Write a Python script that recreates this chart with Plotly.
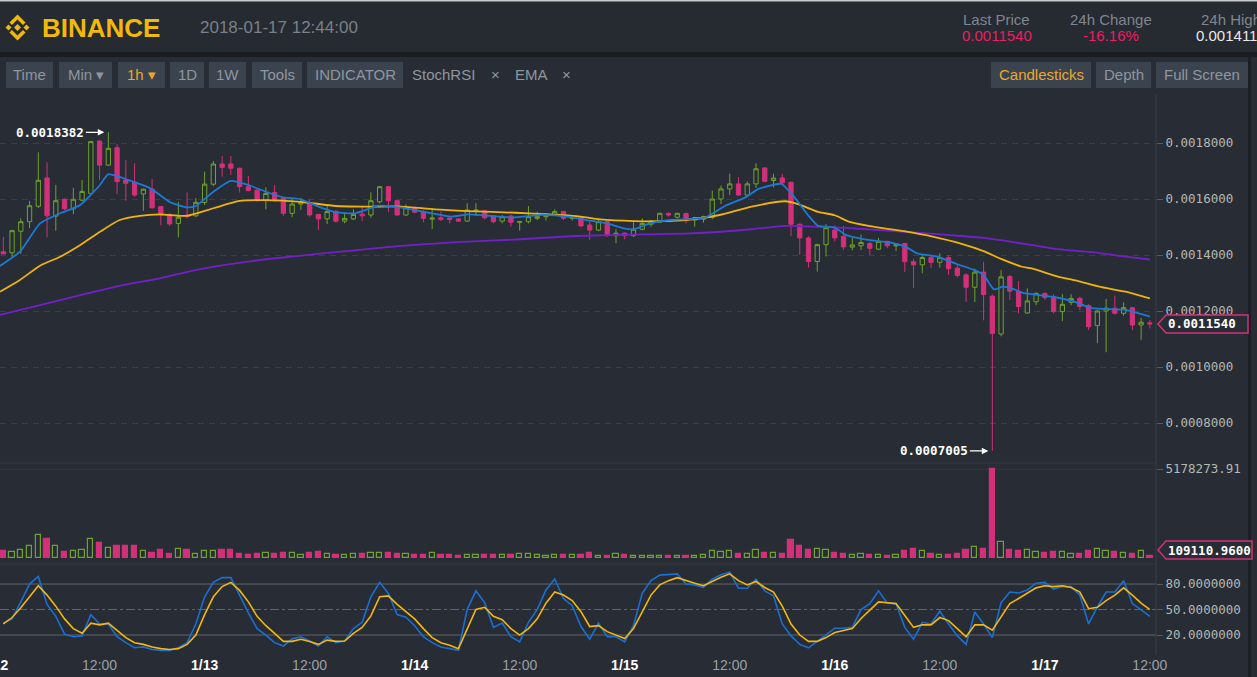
import plotly.graph_objects as go
from plotly.subplots import make_subplots

# hourly candles, x = hours counted from 2018-01-12 00:00 ; prices in units of 1e-6
hours = list(range(1, 133))
open_u = [1412, 1408, 1485, 1519, 1574, 1675, 1539, 1599, 1565, 1596,
          1620, 1807, 1721, 1783, 1668, 1660, 1618, 1636, 1573, 1545,
          1513, 1543, 1540, 1588, 1653, 1725, 1725, 1710, 1644, 1632,
          1596, 1623, 1603, 1549, 1582, 1585, 1545, 1529, 1556, 1521,
          1529, 1546, 1543, 1590, 1644, 1594, 1543, 1570, 1555, 1528,
          1533, 1532, 1529, 1521, 1558, 1558, 1539, 1521, 1539, 1517,
          1519, 1531, 1537, 1543, 1555, 1531, 1537, 1507, 1489, 1519,
          1469, 1478, 1469, 1492, 1510, 1517, 1549, 1535, 1548, 1525,
          1528, 1534, 1600, 1636, 1654, 1614, 1654, 1711, 1666, 1675,
          1660, 1510, 1461, 1377, 1437, 1489, 1467, 1428, 1433, 1441,
          1421, 1449, 1433, 1441, 1376, 1365, 1391, 1374, 1391, 1353,
          1329, 1285, 1339, 1253, 1118, 1323, 1271, 1193, 1233, 1263,
          1251, 1198, 1231, 1245, 1219, 1148, 1200, 1210, 1192, 1212,
          1150, 1158]
high_u = [1465, 1490, 1531, 1593, 1767, 1731, 1650, 1602, 1640, 1668,
          1808, 1810, 1838.2, 1796, 1739, 1727, 1637, 1671, 1575, 1549,
          1590, 1624, 1603, 1698, 1736, 1754, 1754, 1712, 1682, 1634,
          1642, 1650, 1605, 1603, 1603, 1599, 1547, 1576, 1560, 1553,
          1563, 1573, 1624, 1646, 1646, 1596, 1581, 1573, 1561, 1561,
          1555, 1533, 1531, 1585, 1585, 1561, 1543, 1543, 1545, 1519,
          1575, 1555, 1549, 1563, 1558, 1539, 1539, 1519, 1527, 1522,
          1492, 1481, 1517, 1531, 1525, 1551, 1552, 1551, 1551, 1537,
          1540, 1630, 1648, 1690, 1678, 1663, 1727, 1713, 1690, 1690,
          1662, 1512, 1467, 1440, 1510, 1506, 1504, 1461, 1473, 1447,
          1461, 1451, 1442, 1443, 1386, 1402, 1400, 1406, 1400, 1367,
          1335, 1351, 1376, 1259, 1346, 1329, 1307, 1281, 1267, 1267,
          1260, 1260, 1260, 1251, 1224, 1204, 1243, 1255, 1231, 1214,
          1176, 1168]
low_u = [1402, 1388, 1404, 1496, 1568, 1463, 1487, 1560, 1546, 1592,
         1616, 1668, 1718, 1618, 1594, 1608, 1558, 1565, 1507, 1504,
         1463, 1531, 1535, 1579, 1646, 1680, 1686, 1623, 1628, 1590,
         1563, 1590, 1540, 1535, 1561, 1537, 1489, 1511, 1515, 1513,
         1525, 1521, 1533, 1585, 1553, 1540, 1540, 1549, 1517, 1493,
         1521, 1513, 1519, 1519, 1540, 1527, 1513, 1513, 1501, 1487,
         1513, 1525, 1523, 1540, 1525, 1523, 1499, 1454, 1485, 1465,
         1442, 1456, 1465, 1488, 1501, 1515, 1537, 1531, 1513, 1501,
         1516, 1528, 1582, 1614, 1612, 1610, 1639, 1660, 1642, 1652,
         1467, 1401, 1355, 1341, 1395, 1449, 1419, 1417, 1418, 1400,
         1418, 1424, 1414, 1339, 1282, 1335, 1353, 1355, 1329, 1320,
         1232, 1232, 1167, 700.5, 1110, 1239, 1192, 1190, 1221, 1240,
         1192, 1164, 1221, 1204, 1132, 1085, 1053, 1188, 1183, 1132,
         1097, 1138]
close_u = [1404, 1487, 1519, 1576, 1667, 1540, 1594, 1565, 1599, 1627,
           1805, 1721, 1781, 1662, 1656, 1614, 1635, 1569, 1543, 1511,
           1535, 1537, 1588, 1653, 1725, 1713, 1710, 1644, 1630, 1596,
           1620, 1594, 1549, 1582, 1588, 1543, 1529, 1555, 1521, 1531,
           1545, 1540, 1594, 1644, 1594, 1543, 1569, 1553, 1531, 1532,
           1527, 1527, 1521, 1561, 1560, 1533, 1519, 1537, 1517, 1519,
           1537, 1537, 1546, 1555, 1531, 1537, 1504, 1489, 1519, 1469,
           1478, 1469, 1492, 1513, 1521, 1549, 1543, 1549, 1523, 1534,
           1537, 1600, 1636, 1654, 1614, 1654, 1708, 1663, 1675, 1658,
           1510, 1461, 1377, 1437, 1498, 1461, 1429, 1436, 1445, 1424,
           1449, 1433, 1438, 1376, 1365, 1391, 1374, 1391, 1351, 1327,
           1285, 1339, 1259, 1120, 1322, 1271, 1216, 1236, 1263, 1248,
           1198, 1224, 1245, 1216, 1144, 1200, 1210, 1192, 1212, 1150,
           1160, 1154]
volume = [425000, 367000, 465000, 680000, 1338000, 1105000, 680000, 367000, 390000, 465000,
          1105000, 873000, 582000, 680000, 680000, 680000, 425000, 291000, 465000, 233000,
          524000, 465000, 233000, 390000, 390000, 465000, 465000, 233000, 192000, 233000,
          291000, 233000, 291000, 291000, 175000, 291000, 367000, 233000, 175000, 175000,
          233000, 233000, 291000, 291000, 291000, 233000, 233000, 175000, 175000, 291000,
          175000, 175000, 134000, 175000, 175000, 175000, 175000, 175000, 175000, 233000,
          233000, 175000, 134000, 175000, 175000, 175000, 175000, 291000, 134000, 134000,
          233000, 175000, 134000, 134000, 134000, 134000, 134000, 134000, 134000, 134000,
          175000, 390000, 332000, 390000, 233000, 233000, 465000, 291000, 291000, 233000,
          1047000, 680000, 465000, 524000, 465000, 291000, 233000, 175000, 233000, 175000,
          175000, 134000, 175000, 390000, 524000, 390000, 233000, 175000, 175000, 233000,
          465000, 622000, 524000, 5178273.91, 913000, 465000, 390000, 465000, 332000, 273000,
          332000, 332000, 233000, 233000, 390000, 524000, 390000, 332000, 291000, 233000,
          390000, 109110.96]

# EMA lines at sample hours
ema7_h = [0.62, 2.9, 5.2, 7.5, 9.8, 12.05, 13, 15.8, 17.8, 20.1, 22, 23, 25, 27, 29, 31, 33, 35, 37, 39,
          41.2, 43.9, 46.5, 49.2, 52.2, 54.1, 59.2, 62.7, 65.8, 68, 70, 71.9, 73, 74.9, 77.2, 79.2, 81.2,
          83.5, 85.8, 87.3, 89.9, 91.4, 93, 94.1, 96, 97.2, 98.3, 100, 102.3, 104.1, 105.4, 107.7, 110,
          111.9, 113, 114.2, 115.2, 116.2, 117.5, 118.5, 120.8, 123.1, 125.4, 129.2, 132]
ema7_u = [1361, 1412, 1513, 1549, 1579, 1650, 1689, 1662, 1638, 1588, 1570, 1575, 1626, 1665, 1650, 1626,
          1606, 1599, 1573, 1553, 1549, 1576, 1569, 1553, 1537, 1545, 1534, 1543, 1535, 1523, 1513, 1495,
          1492, 1513, 1525, 1528, 1534, 1576, 1606, 1636, 1654, 1606, 1540, 1504, 1498, 1473, 1463, 1453,
          1445, 1429, 1406, 1394, 1367, 1347, 1329, 1277, 1287, 1281, 1265, 1260, 1251, 1236, 1210, 1204,
          1180]
ema25_h = [0.62, 2.9, 5.2, 7.5, 9.8, 12.05, 14.3, 16.6, 18.9, 22, 25, 28, 31, 35, 39, 42.7, 46.5, 50.3,
           54.1, 59.5, 62.7, 66.5, 69.2, 73, 76, 79.2, 82.7, 86.5, 90.3, 91.8, 94.1, 96, 97.7, 100, 103.9,
           107.3, 110.4, 113, 115, 117.3, 118.5, 121.5, 123.8, 126.2, 129.2, 132]
ema25_u = [1269, 1311, 1362, 1394, 1436, 1483, 1525, 1540, 1545, 1540, 1567, 1593, 1596, 1590, 1575,
           1573, 1573, 1563, 1557, 1551, 1546, 1539, 1527, 1521, 1521, 1526, 1542, 1573, 1592, 1582,
           1554, 1542, 1518, 1503, 1485, 1465, 1441, 1414, 1386, 1359, 1352, 1323, 1307, 1287, 1269, 1245]
ema99_h = [0.62, 5.2, 9.8, 14.3, 18.9, 23.5, 30.3, 39.5, 46.5, 54.1, 59.2, 66.5, 74.2, 79.5, 86.5, 90.3,
           94.1, 97.7, 101.6, 105.4, 109.2, 113, 117.7, 121.5, 125.4, 129.2, 132]
ema99_u = [1186, 1221, 1257, 1290, 1317, 1350, 1382, 1412, 1433, 1448, 1455, 1468, 1474, 1477, 1492,
           1504, 1501, 1496, 1488, 1480, 1471, 1461, 1440, 1421, 1410, 1394, 1384]

# StochRSI, one value per candle
stoch_k = [34, 39, 59, 80, 89, 56, 42, 21, 18, 19, 44, 33, 33, 18, 11, 5, 6, 3, 2, 2,
           5, 11, 33, 65, 82, 87.5, 87.5, 67, 46, 27.5, 20, 11, 7, 15.5, 18, 13, 7, 18, 11, 13,
           27.5, 35, 65, 82, 69, 44, 41, 31, 18, 11, 6, 4, 2, 50, 72, 58, 29, 34, 18, 12,
           35, 50, 73, 86, 63, 54.5, 30, 15, 34, 18, 18, 12, 31, 69, 84, 90.5, 91, 92, 80, 79,
           76, 85.6, 91, 94, 75, 75, 85.6, 72, 66, 33, 19, 9, 5, 12.5, 21, 28, 28, 29, 50, 57,
           72, 57.5, 57, 29, 15, 35, 33, 48, 33, 19, 9, 47, 33, 17, 58, 70.6, 69.5, 73, 81, 82,
           74, 77, 77, 67, 33, 53, 70.6, 70.6, 84, 57, 49.6, 42]
stoch_d = [33, 40.6, 52, 65, 78, 67, 54, 39, 27.5, 22, 34, 32, 34, 25.6, 17, 11, 9, 6, 4, 3,
           4, 9, 20, 44, 65, 77, 82, 72.5, 59, 42, 31, 22, 12.5, 12.5, 15, 12.5, 9, 14, 12.5, 13,
           22, 29, 42.5, 65, 66, 56, 48, 39, 27.5, 17, 11, 8, 4, 27.5, 50, 52.6, 42, 38, 27.5, 20,
           27.5, 39, 57.5, 70.6, 67, 60.5, 47.5, 30, 31, 24, 20, 16, 27.5, 48, 67, 79, 84, 87.5, 84, 81,
           78, 83, 88, 92, 84, 79, 83, 76, 70.6, 54, 33, 20, 12.5, 12.5, 17, 23, 25.6, 27.5, 39.5, 49,
           59, 58, 57, 43, 29, 32, 32, 40.6, 37, 27.5, 18, 32, 32, 25.6, 42, 57, 63, 69, 75.5, 78,
           77, 78, 76, 70.6, 51, 52.6, 60.5, 67, 75.5, 67, 57.5, 50]

tick_hours = list(range(0, 133, 12))
tick_text = []
for h in tick_hours:
    if h % 24 == 0:
        tick_text.append("<span style='color:#ffffff'><b>1/%d</b></span>" % (12 + h // 24))
    else:
        tick_text.append("12:00")

s = 1e-6
o = [v * s for v in open_u]
hi = [v * s for v in high_u]
lo = [v * s for v in low_u]
c = [v * s for v in close_u]

BG = "#272c35"
HEAD = "#262a31"
BTN = "#3b434e"
GREEN = "#6fa32c"
RED = "#d3307a"
TXT = "#8f969e"
YEL = "#eaa82b"
AX = "#b4b9b4"
MONO = "DejaVu Sans Mono"
SANS = "Liberation Sans"

W, H = 1257, 677
R, T, B = 101, 95, 22
PW, PH = W - R, H - T - B
XR = [0.623, 132.7]


def px(x):
    return x / PW


def py(y):
    return (H - B - y) / PH


fig = make_subplots(rows=3, cols=1, shared_xaxes=True, vertical_spacing=0)

fig.add_trace(go.Candlestick(x=hours, open=o, high=hi, low=lo, close=c,
                             increasing=dict(line=dict(color=GREEN, width=1), fillcolor=BG),
                             decreasing=dict(line=dict(color=RED, width=1), fillcolor=RED),
                             whiskerwidth=0, showlegend=False, hoverinfo="skip"), row=1, col=1)
fig.add_trace(go.Scatter(x=ema99_h, y=[v * s for v in ema99_u], mode="lines",
                         line=dict(color="#7420c8", width=1.8, shape="spline", smoothing=0.6),
                         showlegend=False), row=1, col=1)
fig.add_trace(go.Scatter(x=ema25_h, y=[v * s for v in ema25_u], mode="lines",
                         line=dict(color="#f0b30c", width=1.8, shape="spline", smoothing=0.6),
                         showlegend=False), row=1, col=1)
fig.add_trace(go.Scatter(x=ema7_h, y=[v * s for v in ema7_u], mode="lines",
                         line=dict(color="#1d79d6", width=1.8, shape="spline", smoothing=0.5),
                         showlegend=False), row=1, col=1)

up = [cc >= oo for oo, cc in zip(open_u, close_u)]
fig.add_trace(go.Bar(x=hours, y=volume, width=0.6,
                     marker=dict(color=[BG if u else RED for u in up],
                                 line=dict(color=[GREEN if u else RED for u in up], width=1.2)),
                     showlegend=False), row=2, col=1)

fig.add_trace(go.Scatter(x=hours, y=stoch_k, mode="lines", line=dict(color="#1b6fd2", width=1.6),
                         showlegend=False), row=3, col=1)
fig.add_trace(go.Scatter(x=hours, y=stoch_d, mode="lines", line=dict(color="#f3b70d", width=1.6),
                         showlegend=False), row=3, col=1)

for lvl in [80, 20]:
    fig.add_hline(y=lvl, row=3, col=1, line=dict(color="#62676d", width=1), layer="below")
fig.add_hline(y=50, row=3, col=1, line=dict(color="#62676d", width=1, dash="dashdot"), layer="below")

fig.update_xaxes(range=XR, showgrid=False, zeroline=False, showline=False,
                 rangeslider_visible=False, automargin=False, fixedrange=True)
fig.update_xaxes(tickvals=tick_hours, ticktext=tick_text, ticks="", tickfont=dict(family=SANS, size=14, color="#9aa0a6"),
                 row=3, col=1)

ycommon = dict(side="right", zeroline=False, showline=False, automargin=False, ticks="outside",
               ticklen=6, tickcolor="#555b63", tickfont=dict(family=MONO, size=12.5, color=AX))
fig.update_yaxes(domain=[py(463), 1], range=[0.00065729, 0.00197143],
                 tickvals=[0.0008, 0.0010, 0.0012, 0.0014, 0.0016, 0.0018], tickformat=".7f",
                 showgrid=True, gridcolor="#3a4049", griddash="6px,5px", **ycommon, row=1, col=1)
fig.update_yaxes(domain=[py(560), py(466)], range=[-116366, 5352836],
                 tickvals=[5178273.91], ticktext=["5178273.91"], showgrid=True, gridcolor="#30353d",
                 **ycommon, row=2, col=1)
fig.update_yaxes(domain=[0, py(565)], range=[-3.5, 102.4], tickvals=[20, 50, 80],
                 ticktext=["20.0000000", "50.0000000", "80.0000000"], showgrid=False, **ycommon, row=3, col=1)

shapes = []
ann = []


def rect(x0, y0, x1, y1, color, line=None):
    shapes.append(dict(type="rect", xref="paper", yref="paper", x0=px(x0), x1=px(x1), y0=py(y1), y1=py(y0),
                       fillcolor=color, line=dict(width=0) if line is None else line, layer="above"))


def text(x, y, t, size=15, color=TXT, anchor="center", family=SANS):
    ann.append(dict(xref="paper", yref="paper", x=px(x), y=py(y), text=t, showarrow=False,
                    xanchor=anchor, yanchor="middle", font=dict(family=family, size=size, color=color)))


# header + toolbar
rect(0, 0, W, 57, HEAD)
rect(0, 0, W, 1.5, "#c9cacc")
rect(0, 52, W, 57, "#1a1d22")
rect(1248, 57, 1251, H, "#1c1f24")

# logo
cx, cy = 17.5, 27.5
polys = [
    [(0, -3.5), (3.5, 0), (0, 3.5), (-3.5, 0)],
    [(-9, -3), (-6, 0), (-9, 3), (-12, 0)],
    [(9, -3), (12, 0), (9, 3), (6, 0)],
    [(-8, -5), (0, -13), (8, -5), (5.5, -2.5), (0, -8), (-5.5, -2.5)],
    [(-8, 5), (0, 13), (8, 5), (5.5, 2.5), (0, 8), (-5.5, 2.5)],
]
for poly in polys:
    path = "M " + " L ".join("%.5f,%.5f" % (px(cx + a), py(cy + b)) for a, b in poly) + " Z"
    shapes.append(dict(type="path", xref="paper", yref="paper", path=path, fillcolor="#f0b90b",
                       line=dict(width=0), layer="above"))
text(40, 27.5, "<b>BINANCE</b>", size=26, color="#f0b90b", anchor="left")
text(198, 28, "2018-01-17 12:44:00", size=17, color="#7a8089", anchor="left")
text(997, 19, "Last Price", color="#80868f")
text(997, 36, "0.0011540", color="#ea1f63")
text(1111, 19, "24h Change", color="#80868f")
text(1111, 36, "-16.16%", color="#ea1f63")
text(1199, 19, "24h High", color="#80868f", anchor="left")
text(1194, 36, "0.0014110", color="#e8e8e8", anchor="left")

buttons = [("Time", 6, 53, TXT), ("Min ▾", 59, 112, TXT), ("1h ▾", 118, 165, YEL), ("1D", 170, 204, TXT),
           ("1W", 209, 246, TXT), ("Tools", 252, 302, TXT), ("INDICATOR", 307, 403, TXT),
           ("Candlesticks", 991, 1091, YEL), ("Depth", 1096, 1151, TXT), ("Full Screen", 1156, 1248, TXT)]
for label, x0, x1, col in buttons:
    rect(x0, 62, x1, 88, BTN)
    text((x0 + x1) / 2, 75, label, color=col)
text(443.5, 75, "StochRSI", color=TXT)
text(495, 75, "×", color=TXT)
text(531.5, 75, "EMA", color=TXT)
text(566, 75, "×", color=TXT)

# panel borders
rect(0, 462.5, PW, 463.5, "#343941")
rect(0, 563.5, PW, 564.5, "#343941")
rect(PW - 0.5, 95, PW + 0.5, H - B, "#3a3f47")

# high / low markers
ann.append(dict(x=13, y=hi[12], xref="x", yref="y", text="<b>0.0018382</b>", showarrow=True, arrowhead=2,
                arrowsize=1, arrowwidth=1.3, arrowcolor="#ffffff", ax=-58, ay=0, standoff=4,
                font=dict(family=MONO, size=12.5, color="#ffffff")))
ann.append(dict(x=114, y=lo[113], xref="x", yref="y", text="<b>0.0007005</b>", showarrow=True, arrowhead=2,
                arrowsize=1, arrowwidth=1.3, arrowcolor="#ffffff", ax=-58, ay=0, standoff=4,
                font=dict(family=MONO, size=12.5, color="#ffffff")))

# last price / last volume tags
tag = "M 2,0 L 10,9 L 92,9 L 92,-9 L 10,-9 Z"
shapes.append(dict(type="path", xref="paper", yref="y", xsizemode="pixel", ysizemode="pixel",
                   xanchor=1.0, yanchor=c[-1], path=tag, fillcolor=BG, line=dict(color=RED, width=1.5),
                   layer="above"))
ann.append(dict(xref="paper", yref="y", x=1.0, y=c[-1], xshift=10, text="<b>0.0011540</b>", showarrow=False,
                xanchor="left", yanchor="middle", font=dict(family=MONO, size=12.5, color="#ffffff")))
vtag = "M 2,6 L 10,15 L 96,15 L 96,-3 L 10,-3 Z"
shapes.append(dict(type="path", xref="paper", yref="y2", xsizemode="pixel", ysizemode="pixel",
                   xanchor=1.0, yanchor=volume[-1], path=vtag, fillcolor=BG, line=dict(color=RED, width=1.5),
                   layer="above"))
ann.append(dict(xref="paper", yref="y2", x=1.0, y=volume[-1], xshift=10, yshift=6, text="<b>109110.9600</b>",
                showarrow=False, xanchor="left", yanchor="middle",
                font=dict(family=MONO, size=12.5, color="#ffffff")))

# first day label, partly off the left edge (tick at hour 0 lies just outside the range)
ann.append(dict(xref="paper", yref="paper", x=(tick_hours[0] - XR[0]) / (XR[1] - XR[0]), y=py(665),
                text=tick_text[0], showarrow=False, xanchor="center", yanchor="middle",
                font=dict(family=SANS, size=14, color="#9aa0a6")))

fig.update_layout(width=W, height=H, margin=dict(l=0, r=R, t=T, b=B), paper_bgcolor=BG, plot_bgcolor=BG,
                  showlegend=False, bargap=0, shapes=list(fig.layout.shapes) + shapes,
                  annotations=ann, hovermode=False)

fig.write_html("out.html", config={"displayModeBar": False},
               post_script="document.body.style.margin='0';document.body.style.overflow='hidden';")
